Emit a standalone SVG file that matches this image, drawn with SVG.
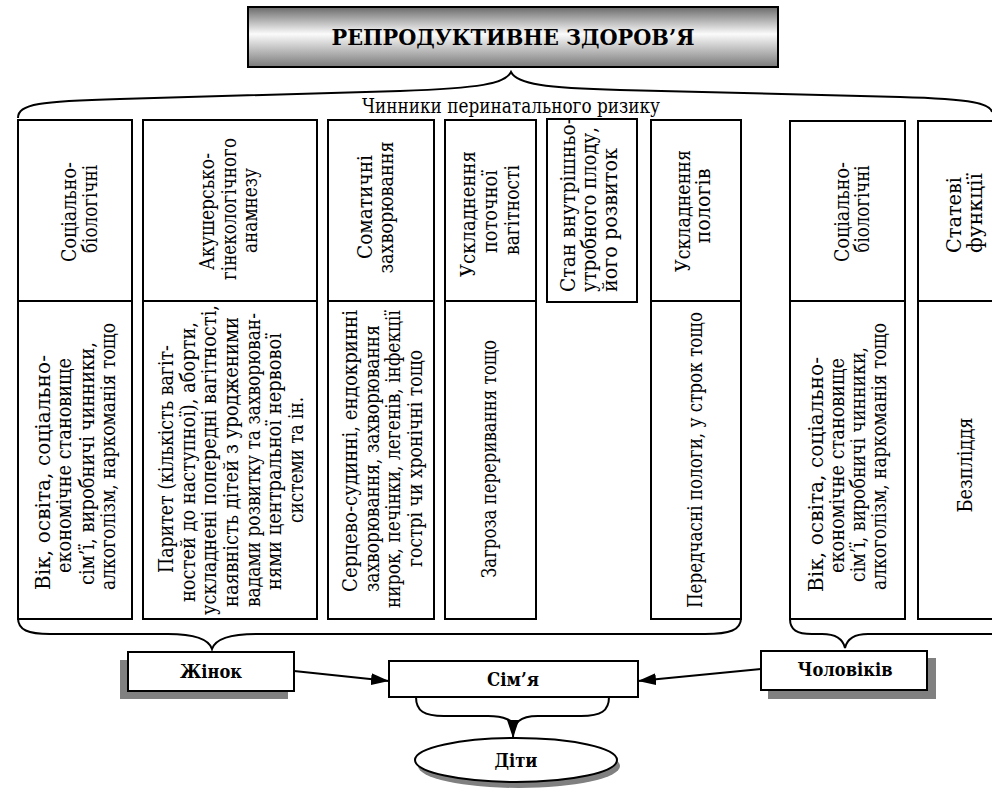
<svg xmlns="http://www.w3.org/2000/svg" width="992" height="788" viewBox="0 0 992 788">
<style>
text{font-family:"DejaVu Serif","Liberation Serif",serif;fill:#000}
.v{font-size:20.5px;text-anchor:middle}
.vs{font-size:20.5px;text-anchor:start}
.h{font-size:20px;text-anchor:middle}
.b{font-size:19px;font-weight:bold;text-anchor:middle}
.t{font-size:22px;font-weight:bold;text-anchor:middle}
.box{fill:#fff;stroke:#000;stroke-width:2}
.sh{fill:#808080;stroke:none}
.ln{fill:none;stroke:#000;stroke-width:2}
</style>
<defs>
<linearGradient id="tg" x1="0" y1="0" x2="0" y2="1">
<stop offset="0" stop-color="#6a6a6a"/>
<stop offset="0.45" stop-color="#fbfbfb"/>
<stop offset="1" stop-color="#7a7a7a"/>
</linearGradient>
<marker id="ah" markerWidth="18" markerHeight="12" refX="18" refY="6" orient="auto" markerUnits="userSpaceOnUse">
<path d="M0,0 L18,6 L0,12 z" fill="#000"/>
</marker>
</defs>
<rect width="992" height="788" fill="#fff"/>

<g id="title">
<rect x="248" y="7" width="530" height="60" fill="url(#tg)" stroke="#000" stroke-width="2"/>
<text class="t" x="513" y="45" textLength="363" lengthAdjust="spacingAndGlyphs">РЕПРОДУКТИВНЕ ЗДОРОВ’Я</text>
</g>

<g id="braces">
<path class="ln" d="M18,118 C18,104 40,101 120,99 L400,91 C480,88 505,84 511,72 C517,84 545,88 620,90 L900,97 C975,99 990,104 992,112"/>
<path class="ln" d="M18,618 C18,630 28,634 50,634 L168,634 C198,634 209,640 212,649 C215,640 226,634 256,634 L705,634 C730,634 741,630 741,618"/>
<path class="ln" d="M790,619 C790,630 797,634 812,634 L822,634 C836,634 843,639 845,648 C847,639 854,634 868,634 L992,634"/>
</g>

<g id="risk-label">
<text class="h" x="511" y="113" textLength="298" lengthAdjust="spacingAndGlyphs">Чинники перинатального ризику</text>
</g>

<g id="col1">
<rect class="box" x="18" y="120" width="114" height="181"/>
<rect class="box" x="18" y="301" width="114" height="318"/>
<text class="v" transform="translate(76,212) rotate(-90)" textLength="100" lengthAdjust="spacingAndGlyphs">Соціально-</text>
<text class="v" transform="translate(97,209) rotate(-90)" textLength="88" lengthAdjust="spacingAndGlyphs">біологічні</text>
<text class="v" transform="translate(50,472.5) rotate(-90)" textLength="235" lengthAdjust="spacingAndGlyphs">Вік, освіта, соціально-</text>
<text class="v" transform="translate(71,465.5) rotate(-90)" textLength="215" lengthAdjust="spacingAndGlyphs">економічне становище</text>
<text class="v" transform="translate(94,463.5) rotate(-90)" textLength="243" lengthAdjust="spacingAndGlyphs">сім’ї, виробничі чинники,</text>
<text class="v" transform="translate(115,456.5) rotate(-90)" textLength="267" lengthAdjust="spacingAndGlyphs">алкоголізм, наркоманія тощо</text>
</g>

<g id="col2">
<rect class="box" x="143" y="120" width="174" height="181"/>
<rect class="box" x="143" y="301" width="174" height="318"/>
<text class="v" transform="translate(214,211.5) rotate(-90)" textLength="117" lengthAdjust="spacingAndGlyphs">Акушерсько-</text>
<text class="v" transform="translate(236,209) rotate(-90)" textLength="142" lengthAdjust="spacingAndGlyphs">гінекологічного</text>
<text class="v" transform="translate(257,210.5) rotate(-90)" textLength="85" lengthAdjust="spacingAndGlyphs">анамнезу</text>
<text class="v" transform="translate(173,459) rotate(-90)" textLength="228" lengthAdjust="spacingAndGlyphs">Паритет (кількість вагіт-</text>
<text class="v" transform="translate(194.5,462) rotate(-90)" textLength="280" lengthAdjust="spacingAndGlyphs">ностей до наступної), аборти,</text>
<text class="v" transform="translate(216,460) rotate(-90)" textLength="310" lengthAdjust="spacingAndGlyphs">ускладнені попередні вагітності,</text>
<text class="v" transform="translate(238,462) rotate(-90)" textLength="290" lengthAdjust="spacingAndGlyphs">наявність дітей з уродженими</text>
<text class="v" transform="translate(259.5,460) rotate(-90)" textLength="294" lengthAdjust="spacingAndGlyphs">вадами розвитку та захворюван-</text>
<text class="v" transform="translate(281,461.5) rotate(-90)" textLength="257" lengthAdjust="spacingAndGlyphs">нями центральної нервової</text>
<text class="v" transform="translate(303,460) rotate(-90)" textLength="126" lengthAdjust="spacingAndGlyphs">системи та ін.</text>
</g>

<g id="col3">
<rect class="box" x="328" y="120" width="106" height="181"/>
<rect class="box" x="328" y="301" width="106" height="318"/>
<text class="v" transform="translate(372,207) rotate(-90)" textLength="104" lengthAdjust="spacingAndGlyphs">Соматичні</text>
<text class="v" transform="translate(393,207.5) rotate(-90)" textLength="132" lengthAdjust="spacingAndGlyphs">захворювання</text>
<text class="v" transform="translate(357,451) rotate(-90)" textLength="282" lengthAdjust="spacingAndGlyphs">Серцево-судинні, ендокринні</text>
<text class="v" transform="translate(378.5,458.5) rotate(-90)" textLength="267" lengthAdjust="spacingAndGlyphs">захворювання, захворювання</text>
<text class="v" transform="translate(400,459) rotate(-90)" textLength="298" lengthAdjust="spacingAndGlyphs">нирок, печінки, легенів, інфекції</text>
<text class="v" transform="translate(422,458.5) rotate(-90)" textLength="217" lengthAdjust="spacingAndGlyphs">гострі чи хронічні тощо</text>
</g>

<g id="col4">
<rect class="box" x="445" y="120" width="91" height="181"/>
<rect class="box" x="445" y="301" width="91" height="318"/>
<text class="v" transform="translate(475,214) rotate(-90)" textLength="126" lengthAdjust="spacingAndGlyphs">Ускладнення</text>
<text class="v" transform="translate(497,211.5) rotate(-90)" textLength="83" lengthAdjust="spacingAndGlyphs">поточної</text>
<text class="v" transform="translate(519,210) rotate(-90)" textLength="90" lengthAdjust="spacingAndGlyphs">вагітності</text>
<text class="v" transform="translate(496,459) rotate(-90)" textLength="238" lengthAdjust="spacingAndGlyphs">Загроза переривання тощо</text>
</g>

<g id="col5">
<rect class="box" x="547" y="119" width="90" height="183"/>
<text class="vs" transform="translate(575,292) rotate(-90)" textLength="174" lengthAdjust="spacingAndGlyphs">Стан внутрішньо-</text>
<text class="vs" transform="translate(596,292) rotate(-90)" textLength="165" lengthAdjust="spacingAndGlyphs">утробного плоду,</text>
<text class="vs" transform="translate(617,292) rotate(-90)" textLength="144" lengthAdjust="spacingAndGlyphs">його розвиток</text>
</g>

<g id="col6">
<rect class="box" x="651" y="120" width="90" height="181"/>
<rect class="box" x="651" y="301" width="90" height="318"/>
<text class="v" transform="translate(690,211) rotate(-90)" textLength="122" lengthAdjust="spacingAndGlyphs">Ускладнення</text>
<text class="v" transform="translate(710,206) rotate(-90)" textLength="75" lengthAdjust="spacingAndGlyphs">пологів</text>
<text class="v" transform="translate(702,460) rotate(-90)" textLength="296" lengthAdjust="spacingAndGlyphs">Передчасні пологи, у строк тощо</text>
</g>

<g id="col7">
<rect class="box" x="790" y="121" width="115" height="180"/>
<rect class="box" x="790" y="301" width="115" height="318"/>
<text class="v" transform="translate(849,212) rotate(-90)" textLength="100" lengthAdjust="spacingAndGlyphs">Соціально-</text>
<text class="v" transform="translate(869,209) rotate(-90)" textLength="87" lengthAdjust="spacingAndGlyphs">біологічні</text>
<text class="v" transform="translate(823,474.5) rotate(-90)" textLength="235" lengthAdjust="spacingAndGlyphs">Вік, освіта, соціально-</text>
<text class="v" transform="translate(844,465.5) rotate(-90)" textLength="215" lengthAdjust="spacingAndGlyphs">економічне становище</text>
<text class="v" transform="translate(865,464.5) rotate(-90)" textLength="235" lengthAdjust="spacingAndGlyphs">сім’ї, виробничі чинники,</text>
<text class="v" transform="translate(886,456.5) rotate(-90)" textLength="267" lengthAdjust="spacingAndGlyphs">алкоголізм, наркоманія тощо</text>
</g>

<g id="col8">
<rect class="box" x="918" y="121" width="90" height="180"/>
<rect class="box" x="918" y="301" width="90" height="318"/>
<text class="v" transform="translate(961,215) rotate(-90)" textLength="76" lengthAdjust="spacingAndGlyphs">Статеві</text>
<text class="v" transform="translate(982,213) rotate(-90)" textLength="80" lengthAdjust="spacingAndGlyphs">функції</text>
<text class="v" transform="translate(972,465) rotate(-90)" textLength="95" lengthAdjust="spacingAndGlyphs">Безпліддя</text>
</g>

<g id="women">
<rect class="sh" x="120" y="660" width="168" height="39"/>
<rect class="box" x="128" y="652" width="166" height="39"/>
<text class="b" x="211" y="678" textLength="62" lengthAdjust="spacingAndGlyphs">Жінок</text>
</g>

<g id="family">
<rect class="box" x="389" y="661" width="249" height="36"/>
<text class="b" x="513" y="686" textLength="52" lengthAdjust="spacingAndGlyphs">Сім’я</text>
</g>

<g id="men">
<rect class="sh" x="768" y="658" width="168" height="41"/>
<rect class="box" x="761" y="651" width="166" height="39"/>
<text class="b" x="845" y="676" textLength="95" lengthAdjust="spacingAndGlyphs">Чоловіків</text>
</g>

<g id="children">
<ellipse class="sh" cx="519" cy="766" rx="101" ry="22"/>
<ellipse class="box" cx="516" cy="760" rx="101" ry="22"/>
<text class="b" x="516" y="767" textLength="43" lengthAdjust="spacingAndGlyphs">Діти</text>
</g>

<g id="connectors">
<line class="ln" x1="294" y1="671" x2="389" y2="681" marker-end="url(#ah)"/>
<line class="ln" x1="761" y1="669" x2="638" y2="681" marker-end="url(#ah)"/>
<path class="ln" d="M416,697 C416,711 424,716 444,716 L488,716 C506,716 513,722 513,724"/>
<path class="ln" d="M609,697 C609,711 601,716 581,716 L538,716 C520,716 513,722 513,738" marker-end="url(#ah)"/>
</g>
</svg>
